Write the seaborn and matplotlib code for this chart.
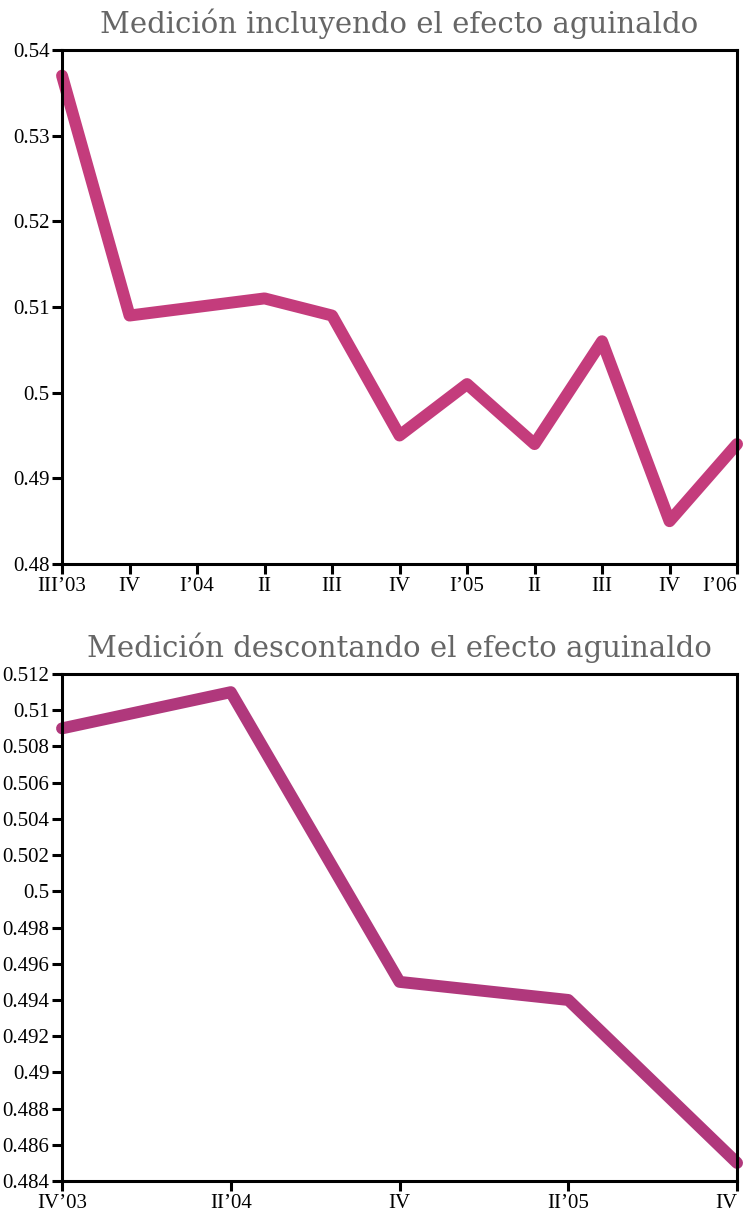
import matplotlib
matplotlib.use("Agg")
import matplotlib.pyplot as plt
import seaborn as sns
import pandas as pd

# Top panel data (quarters)
top_labels = ["III’03", "IV", "I’04", "II", "III", "IV", "I’05", "II", "III", "IV", "I’06"]
top_values = [0.537, 0.509, 0.510, 0.511, 0.509, 0.495, 0.501, 0.494, 0.506, 0.485, 0.494]
top_ticks = [0.48, 0.49, 0.5, 0.51, 0.52, 0.53, 0.54]
top_ticklabels = ["0.48", "0.49", "0.5", "0.51", "0.52", "0.53", "0.54"]

# Bottom panel data (semesters)
bot_labels = ["IV’03", "II’04", "IV", "II’05", "IV"]
bot_values = [0.509, 0.511, 0.495, 0.494, 0.485]
bot_ticks = [0.484, 0.486, 0.488, 0.49, 0.492, 0.494, 0.496, 0.498, 0.5,
             0.502, 0.504, 0.506, 0.508, 0.51, 0.512]
bot_ticklabels = ["0.484", "0.486", "0.488", "0.49", "0.492", "0.494", "0.496", "0.498",
                  "0.5", "0.502", "0.504", "0.506", "0.508", "0.51", "0.512"]

sns.set_style("white")
plt.rcParams['font.family'] = ['Liberation Serif', 'DejaVu Serif']

fig = plt.figure(figsize=(7.51, 12.24), dpi=100)
ax1 = fig.add_axes([0.0826, 0.5392, 0.8988, 0.42])
ax2 = fig.add_axes([0.0826, 0.0351, 0.8988, 0.4142])


def draw(ax, labels, values, color, yticks, yticklabels, title):
    df = pd.DataFrame({"pos": range(len(values)), "val": values})
    sns.lineplot(data=df, x="pos", y="val", ax=ax, color=color, linewidth=8.6)
    for ln in ax.get_lines():
        ln.set_solid_capstyle("round")
        ln.set_solid_joinstyle("round")
        ln.set_clip_on(False)
    ax.set_xlim(0, len(values) - 1)
    ax.set_ylim(yticks[0], yticks[-1])
    ax.set_xticks(range(len(values)))
    ax.set_xticklabels(labels, fontsize=15, family=['Liberation Serif'])
    ax.set_yticks(yticks)
    ax.set_yticklabels(yticklabels, fontsize=15, family=['Liberation Serif'])
    ax.set_xlabel("")
    ax.set_ylabel("")
    ax.tick_params(bottom=True, left=True, direction="out", length=7, width=2.2,
                   pad=2, colors="black")
    # last label sits at the right edge in the original
    ax.get_xticklabels()[-1].set_horizontalalignment("right")
    ax.get_xticklabels()[-1].set_x(len(values) - 1)
    for sp in ax.spines.values():
        sp.set_visible(True)
        sp.set_linewidth(2.2)
        sp.set_color("black")
    ax.set_title(title, fontsize=21, color="#666666", pad=12, family=['DejaVu Serif'])


draw(ax1, top_labels, top_values, "#c43c7c", top_ticks, top_ticklabels,
     "Medición incluyendo el efecto aguinaldo")
draw(ax2, bot_labels, bot_values, "#b0387c", bot_ticks, bot_ticklabels,
     "Medición descontando el efecto aguinaldo")

fig.savefig("out.png", dpi=100)
